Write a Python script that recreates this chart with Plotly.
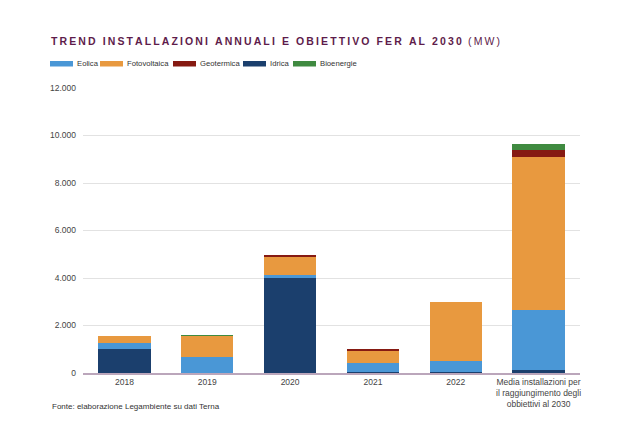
import plotly.graph_objects as go

# ---- data (MW) ----
categories = ["2018", "2019", "2020", "2021", "2022",
              "Media installazioni per<br>il raggiungimento degli<br>obbiettivi al 2030"]
idrica = [1000, 0, 3990, 50, 30, 120]
eolica = [250, 680, 130, 370, 480, 2530]
fotovoltaica = [300, 880, 800, 510, 2480, 6440]
geotermica = [0, 0, 15, 80, 0, 300]
bioenergie = [0, 20, 0, 0, 0, 250]

stack_order = ["Idrica", "Eolica", "Fotovoltaica", "Geotermica", "Bioenergie"]
legend_order = ["Eolica", "Fotovoltaica", "Geotermica", "Idrica", "Bioenergie"]
series = {"Idrica": idrica, "Eolica": eolica, "Fotovoltaica": fotovoltaica,
          "Geotermica": geotermica, "Bioenergie": bioenergie}
colors = {"Eolica": "#4a97d6", "Fotovoltaica": "#e8993f", "Geotermica": "#861a12",
          "Idrica": "#1b3f6d", "Bioenergie": "#3f8a40"}

title_main = "TREND INSTALLAZIONI ANNUALI E OBIETTIVO FER AL 2030"
title_unit = "(MW)"
source = "Fonte: elaborazione Legambiente su dati Terna"

W, H = 638, 433
L, R, T, B = 83, 58, 88, 60
pw, ph = W - L - R, H - T - B

def px(x):
    return (x - L) / pw

def py(y):
    return (H - B - y) / ph

FONT = "Liberation Sans, Arial, sans-serif"

fig = go.Figure()
for name in stack_order:
    fig.add_trace(go.Bar(x=categories, y=series[name], name=name,
                         marker=dict(color=colors[name], line=dict(width=0)),
                         showlegend=False))

# custom legend (wide flat swatches)
legend_x = [50, 100, 173, 243, 293]
for name, x0 in zip(legend_order, legend_x):
    fig.add_shape(type="rect", xref="paper", yref="paper",
                  x0=px(x0), x1=px(x0 + 23), y0=py(66.5), y1=py(61),
                  fillcolor=colors[name], line=dict(width=0), layer="above")
    fig.add_annotation(xref="paper", yref="paper", x=px(x0 + 25), y=py(64),
                       text=name, showarrow=False, xanchor="left", yanchor="middle",
                       font=dict(family=FONT, size=7.7, color="#333333"))

spaced = "\u2009".join(title_main)
fig.add_annotation(xref="paper", yref="paper", x=px(49), y=py(41),
                   text="<b>" + spaced + "</b>\u2009\u2009\u2009" + "\u2009".join(title_unit),
                   showarrow=False, xanchor="left", yanchor="middle",
                   font=dict(family=FONT, size=10.5, color="#5e1c4b"))

fig.add_annotation(xref="paper", yref="paper", x=px(50), y=py(406),
                   text=source, showarrow=False, xanchor="left", yanchor="middle",
                   font=dict(family=FONT, size=8, color="#333333"))

fig.update_layout(
    width=W, height=H,
    margin=dict(l=L, r=R, t=T, b=B),
    barmode="stack", bargap=0.37,
    paper_bgcolor="white", plot_bgcolor="white",
    separators=",.",
    font=dict(family=FONT, size=8.5, color="#444444"),
    showlegend=False,
)
fig.update_xaxes(type="category", showline=True, linecolor="#bba6bb", linewidth=1.5,
                 ticks="", showgrid=False, tickfont=dict(size=8.5, color="#444444"))
fig.update_yaxes(range=[0, 12000], dtick=2000, tickformat=",d", showgrid=True,
                 gridcolor="#e2e2e2", gridwidth=1, zeroline=False, ticks="",
                 ticklabelstandoff=6, tickfont=dict(size=8.5, color="#444444"))

fig.write_html("out.html")
